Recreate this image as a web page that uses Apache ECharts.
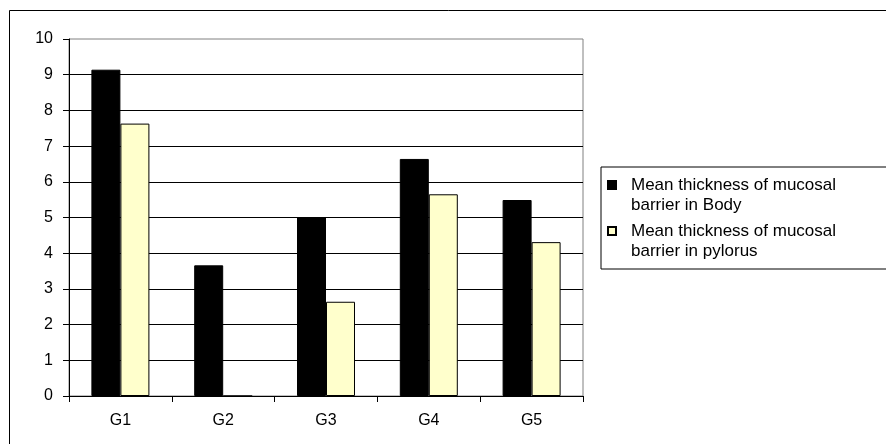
<!DOCTYPE html>
<html>
<head>
<meta charset="utf-8">
<script src="https://cdn.jsdelivr.net/npm/echarts@6/dist/echarts.min.js"></script>
<style>
html,body{margin:0;padding:0;background:#fff;}
#chart{width:886px;height:444px;}
</style>
</head>
<body>
<div id="chart"></div>
<script>
const categories = ['G1', 'G2', 'G3', 'G4', 'G5'];
const bodyValues = [9.14, 3.66, 5.0, 6.64, 5.49];
const pylorusValues = [7.63, 0, 2.64, 5.65, 4.31];
const seriesNames = ['Mean thickness of mucosal barrier in Body', 'Mean thickness of mucosal barrier in pylorus'];
const legendLabels = ['Mean thickness of mucosal\nbarrier in Body', 'Mean thickness of mucosal\nbarrier in pylorus'];
const yTicks = [0, 1, 2, 3, 4, 5, 6, 7, 8, 9, 10];

const font = '"Liberation Sans", Arial, sans-serif';
const chart = echarts.init(document.getElementById('chart'), null, {renderer: 'canvas'});
const iconPath = 'path://M0,0 M0,6H8V14H0Z M0,40';

chart.setOption({
  animation: false,
  backgroundColor: '#fff',
  textStyle: {fontFamily: font},
  graphic: [{
    type: 'rect',
    shape: {x: 9.5, y: 10.5, width: 1000, height: 600},
    style: {fill: 'none', stroke: '#000', lineWidth: 1},
    silent: true,
    z: 0
  }],
  grid: {
    left: 69, right: 303, top: 39, bottom: 48,
    show: true, borderColor: '#808080', borderWidth: 1, backgroundColor: 'transparent'
  },
  legend: {
    orient: 'vertical',
    left: 601, top: 167,
    padding: [7, 90, 7, 6],
    borderColor: '#000', borderWidth: 1,
    backgroundColor: '#fff',
    itemWidth: 8, itemHeight: 40, itemGap: 4,
    icon: iconPath,
    data: seriesNames.map(n => ({name: n, icon: iconPath})),
    formatter: function (name) { return legendLabels[seriesNames.indexOf(name)]; },
    textStyle: {fontFamily: font, fontSize: 17, color: '#000', lineHeight: 20, padding: [0, 0, 0, 10]},
    selectedMode: false
  },
  xAxis: {
    type: 'category',
    data: categories,
    axisLine: {lineStyle: {color: '#000', width: 1}},
    axisTick: {show: true, length: 6, lineStyle: {color: '#000'}},
    axisLabel: {color: '#000', fontSize: 16, fontFamily: font, margin: 17},
    splitLine: {show: false}
  },
  yAxis: {
    type: 'value',
    min: 0, max: 10, interval: 1,
    axisLine: {show: true, lineStyle: {color: '#000', width: 1}},
    axisTick: {show: true, length: 6, lineStyle: {color: '#000'}},
    axisLabel: {color: '#000', fontSize: 16, fontFamily: font, margin: 16,
      formatter: function (v) { return yTicks.indexOf(v) >= 0 ? String(v) : ''; }},
    splitLine: {show: true, showMaxLine: false, showMinLine: false, lineStyle: {color: '#000', width: 1}}
  },
  series: [
    {
      name: seriesNames[0], type: 'bar', data: bodyValues,
      barWidth: 29, barGap: '0%',
      itemStyle: {color: '#000', borderColor: '#000', borderWidth: 1}
    },
    {
      name: seriesNames[1], type: 'bar', data: pylorusValues,
      barWidth: 29, barGap: '0%',
      itemStyle: {color: '#FFFFCC', borderColor: '#000', borderWidth: 1}
    }
  ]
});
</script>
</body>
</html>
